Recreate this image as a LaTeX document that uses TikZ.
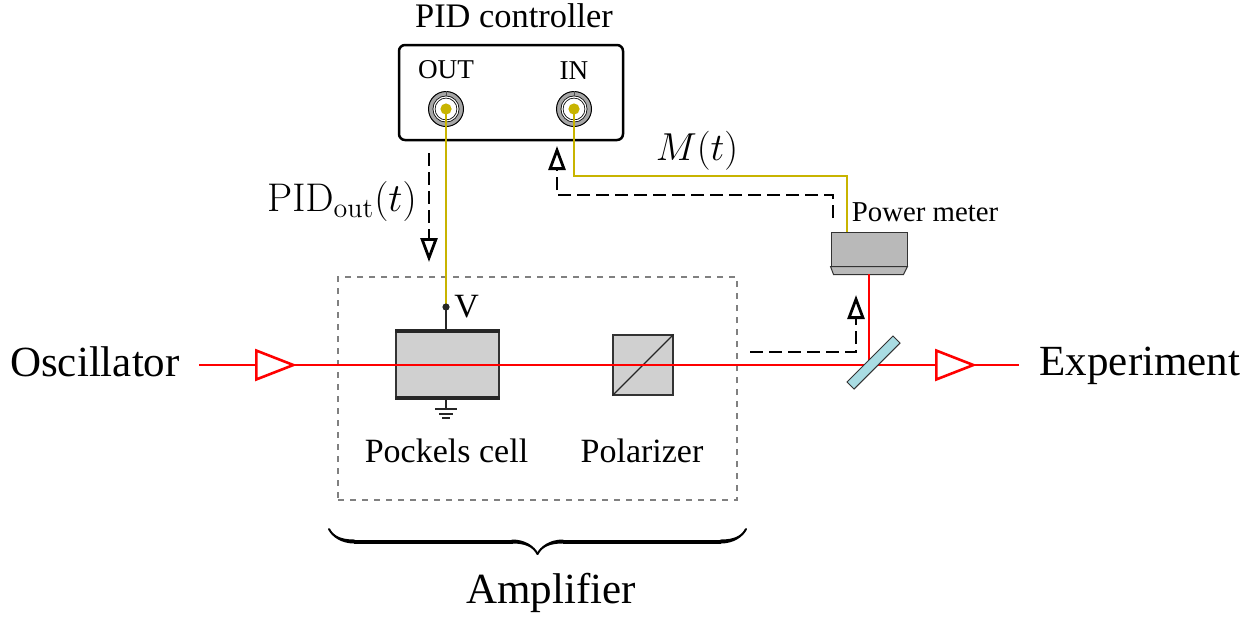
\RequirePackage{fix-cm}
\documentclass[tikz,border=0pt]{standalone}
\usepackage[no-math]{fontspec}
\setmainfont{Liberation Serif}
\usepackage{amsmath}
\usetikzlibrary{calc, arrows.meta, positioning}
\usetikzlibrary{decorations.pathreplacing,calligraphy}
\definecolor{wirecol}{HTML}{C8B400}
\definecolor{mirrorcol}{HTML}{A9DCE3}
\definecolor{cellcol}{HTML}{D0D0D0}
\definecolor{metercol}{HTML}{B9B9B9}

\begin{document}
\begin{tikzpicture}[x=0.5pt, y=-0.5pt,
        bigtext/.style={font=\fontsize{21.5}{24}\selectfont, inner sep=0pt},
        midtext/.style={font=\fontsize{17}{20}\selectfont, inner sep=0pt},
        smalltext/.style={font=\fontsize{13.6}{16}\selectfont, inner sep=0pt},
        controller/.style={rectangle, draw, line width=1.25pt, rounded corners=3pt, minimum width=112pt, minimum height=47.5pt},
        bncouter/.style={circle, draw, fill=gray!70, line width=0.5pt, inner sep=0pt, minimum size=17.5pt},
        bncinner/.style={circle, draw, fill=white, line width=0.4pt, double=white, double distance=0.6pt, inner sep=0pt, minimum size=12pt},
        bnccore/.style={circle, fill=wirecol, inner sep=0pt, minimum size=5.6pt},
        cell/.style={rectangle, draw=black!80, fill=cellcol, line width=0.6pt, inner sep=0pt},
        amplifierbox/.style={rectangle, draw=gray, dashed, line width=0.7pt, minimum width=199.5pt, minimum height=111.5pt},
        meter/.style={rectangle, draw=black!80, fill=metercol, line width=0.5pt, minimum width=38pt, minimum height=17pt, inner sep=0pt},
        mirror/.style={rectangle, draw=black!80, fill=mirrorcol, line width=0.5pt, rotate=45, minimum width=32.5pt, minimum height=5pt, inner sep=0pt},
        beam/.style={draw=red, line width=1.3pt},
        wire/.style={draw=wirecol, line width=1pt},
        lead/.style={draw=black!85, line width=1pt},
        signal/.style={draw, line width=1.4pt, dash pattern=on 6.5pt off 3pt, -{Triangle[open, length=12pt, width=8.5pt]}},
        isolator/.style={-{Triangle[open, fill=white, length=21pt, width=16pt]}}]

    \useasboundingbox (0,0) rectangle (1256,617);

    % amplifier
    \node [amplifierbox] (ampbox) at (537.5,388.5) {};
    \node [cell, minimum width=51.5pt, minimum height=32.5pt] (pockels) at (447.5,364.5) {};
    \node [cell, minimum size=30pt] (polarizer) at (643,365) {};
    \draw [line width=0.6pt, black!85] (polarizer.south west) -- (polarizer.north east);
    \draw [line width=2pt, black!85] (pockels.north west) -- (pockels.north east);
    \draw [line width=2pt, black!85] (pockels.south west) -- (pockels.south east);
    \node [midtext, below=20.5pt of pockels, xshift=-0.5pt] (pockelstext) {Pockels cell};
    \node [midtext, xshift=-0.5pt] (polarizertext) at (pockelstext -| polarizer) {Polarizer};

    % controller
    \node [controller] (pid) at (511,92.5) {};
    \node [font=\fontsize{17.2}{20}\selectfont, inner sep=0pt, above=8pt of pid, xshift=1.5pt] (pidtext) {PID controller};
    \foreach \name/\xpos/\lbl in {out/446/OUT, in/574/IN} {
        \node [bncouter] (\name) at (\xpos,109) {};
        \node [bncinner] at (\name) {};
        \draw [line width=0.4pt, black!70] (\name.north) -- ++(0,5);
        \node [smalltext, above=5.7pt of \name] (\name text) {\lbl};
    }

    % meter and mirror
    \node [meter] (powermeter) at (869,249) {};
    \fill [metercol, draw=black!80, line width=0.5pt] (powermeter.south west) -- ++(3,8) -- ++(70,0) -- (powermeter.south east) -- cycle;
    \draw [line width=0.8pt, black!80] (powermeter.south west) -- (powermeter.south east);
    \node [font=\fontsize{14.4}{16}\selectfont, inner sep=0pt] (metertext) at (925,212) {Power meter};

    % beam
    \coordinate (beamstart) at (199,365);
    \coordinate (isoa) at (297,365);
    \coordinate (splitter) at (869,365);
    \coordinate (isob) at (977,365);
    \coordinate (beamend) at (1019,365);
    \coordinate (meterin) at (869,274);
    \path [beam] (beamstart) -- (beamend);
    \path [beam] (splitter) -- (meterin);
    \path [beam, isolator] (beamstart) -- (isoa);
    \path [beam, isolator] (splitter) -- (isob);
    \node [mirror] (bs) at (873.5,362.5) {};

    \node [bigtext] (osc) at (95,362) {Oscillator};
    \node [bigtext] (exp) at (1140,366) {Experiment};

    % wires
    \coordinate (vpoint) at (446,307);
    \path [wire] (out.center) -- (vpoint);
    \path [wire] (in.center) |- (847,176) -- (847,232);
    \path [lead] (vpoint) -- (pockels.north -| vpoint);
    \node [bnccore] at (out) {};
    \node [bnccore] at (in) {};
    \fill [black!85] (vpoint) circle (1.8pt);
    \node [midtext, right=4pt of vpoint] (vtext) {V};

    % ground
    \coordinate (gnd) at (446,409);
    \path [lead] (pockels.south -| gnd) -- (gnd);
    \draw [line width=0.8pt, black!85] ($(gnd)+(-11,0)$) -- ($(gnd)+(11,0)$);
    \draw [line width=0.8pt, black!85] ($(gnd)+(-7,5)$) -- ($(gnd)+(7,5)$);
    \draw [line width=0.8pt, black!85] ($(gnd)+(-4,9)$) -- ($(gnd)+(4,9)$);

    % feedback signals
    \coordinate (pidouta) at (429,153);
    \coordinate (pidoutb) at (429,262);
    \coordinate (fbstart) at (833,218);
    \coordinate (fbend) at (557,146);
    \coordinate (pickstart) at (750,352);
    \coordinate (pickend) at (856,295);
    \path [signal] (pidouta) -- (pidoutb);
    \path [signal] (fbstart) -- (833,195) -- (557,195) -- (fbend);
    \path [signal] (pickstart) -- (856,352) -- (pickend);

    \node [font=\fontsize{19.5}{22}\selectfont, inner sep=0pt] (mlabel) at (697,151) {$M(t)$};
    \node [font=\fontsize{20}{22}\selectfont, inner sep=0pt] (pidlabel) at (342,201) {$\mathrm{PID}_{\mathrm{out}}(t)$};

    % brace
    \coordinate (bracea) at (329,529);
    \coordinate (braceb) at (746,529);
    \draw [decorate, decoration={calligraphic brace, amplitude=12.5pt, mirror}, line width=2pt] (bracea) -- (braceb);
    \node [bigtext] (amptext) at (551,593) {Amplifier};
\end{tikzpicture}
\end{document}
